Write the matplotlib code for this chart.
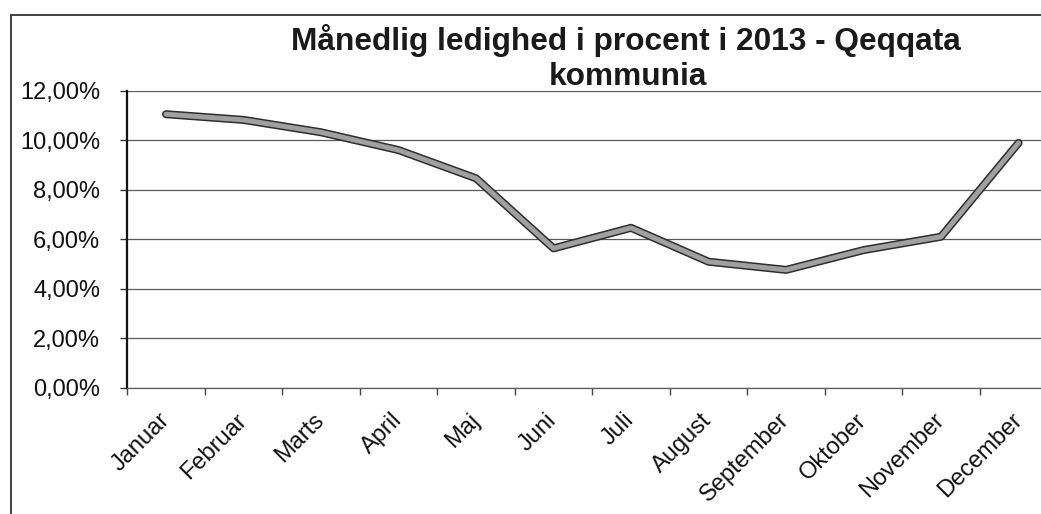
import matplotlib
matplotlib.use("Agg")
import matplotlib.pyplot as plt
import matplotlib.patheffects as pe
from matplotlib.patches import Rectangle
from matplotlib.ticker import FuncFormatter
import numpy as np

months = ["Januar", "Februar", "Marts", "April", "Maj", "Juni", "Juli",
          "August", "September", "Oktober", "November", "December"]
# unemployment in percent
rates = [11.05, 10.82, 10.32, 9.60, 8.46, 5.63, 6.46, 5.09, 4.76, 5.56, 6.10, 9.89]
yticks = [0, 2, 4, 6, 8, 10, 12]

title1 = "Månedlig ledighed i procent i 2013 - Qeqqata"
title2 = "kommunia"

plt.rcParams['font.family'] = ['Liberation Sans', 'DejaVu Sans']

W, H = 1041, 514
fig = plt.figure(figsize=(W / 100, H / 100), dpi=100)
fig.patch.set_facecolor('white')

# plot area in pixels (x0, top, x1, bottom) - runs off the right edge like the scan
x0, top, x1, bottom = 127.3, 90.7, 127.3 + 77.5 * 12, 387.7
ax = fig.add_axes([x0 / W, (H - bottom) / H, (x1 - x0) / W, (bottom - top) / H])

x = np.arange(len(months))
ax.plot(x, rates, color='#a0a0a0', linewidth=3.6, solid_joinstyle='round',
        solid_capstyle='round', zorder=3,
        path_effects=[pe.Stroke(linewidth=5.8, foreground='#2e2e2e'), pe.Normal()])

ax.set_xlim(-0.5, 11.5)
ax.set_ylim(0, 12)

ax.set_yticks(yticks)
ax.yaxis.set_major_formatter(FuncFormatter(lambda v, p: ("%.2f" % v).replace('.', ',') + '%'))
ax.tick_params(axis='y', length=5, width=1, color='#333333', pad=14.4,
               labelsize=17, labelcolor='#111111')

ax.set_xticks(x)
ax.set_xticklabels(months, rotation=45, ha='right', va='center', rotation_mode='anchor')
ax.tick_params(axis='x', which='major', length=0, pad=21, labelsize=17, labelcolor='#111111')
ax.set_xticks(np.arange(-0.5, 12, 1), minor=True)
ax.tick_params(axis='x', which='minor', length=5, width=1, color='#444444')

ax.grid(axis='y', color='#5a5a5a', linewidth=0.9)
ax.set_axisbelow(True)

for s in ['top', 'right']:
    ax.spines[s].set_visible(False)
ax.spines['left'].set_color('#111111')
ax.spines['left'].set_linewidth(1.6)
ax.spines['bottom'].set_color('#5a5a5a')
ax.spines['bottom'].set_linewidth(0.9)

fig.text(626 / W, 1 - 50 / H, title1, ha='center', va='baseline',
         fontsize=22.8, fontweight='bold', color='#1a1a1a')
fig.text(628 / W, 1 - 85 / H, title2, ha='center', va='baseline',
         fontsize=22.8, fontweight='bold', color='#1a1a1a')

# chart border, cut off at the right and bottom
fig.add_artist(Rectangle((11 / W, -0.1), 1.2, (H - 15) / H + 0.1, transform=fig.transFigure,
                         fill=False, edgecolor='#333333', linewidth=1.3))

fig.savefig("out.png", dpi=100)
